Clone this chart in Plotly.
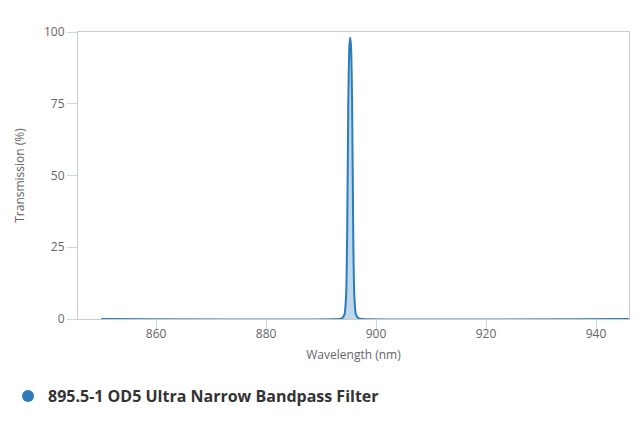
import plotly.graph_objects as go

# 透过率曲线
wavelength = [850, 893.3, 893.8, 894.25, 894.55, 894.75, 894.95, 895.15, 895.3,
              895.45, 895.65, 895.85, 896.05, 896.35, 896.85, 897.35, 950]
transmission = [0, 0, 0.2, 1.5, 8, 30, 75, 95, 98, 95, 75, 30, 8, 1.5, 0.2, 0, 0]

series_name = "895.5-1 OD5 Ultra Narrow Bandpass Filter"
x_ticks = [860, 880, 900, 920, 940]
y_ticks = [0, 25, 50, 75, 100]

blue = "#2b7cb8"

fig = go.Figure()

fig.add_trace(go.Scatter(
    x=wavelength, y=transmission,
    mode="lines",
    line=dict(color=blue, width=2, shape="spline", smoothing=0.6),
    fill="tozeroy",
    fillcolor="rgba(43,124,184,0.3)",
    showlegend=False,
    hoverinfo="x+y",
))

# 图例用的圆点
fig.add_trace(go.Scatter(
    x=[None], y=[None],
    mode="markers",
    marker=dict(color=blue, size=15, symbol="circle"),
    name=series_name,
))

axis_font = dict(family="'Open Sans', Lato, sans-serif", size=12, color="#666666")

# 页面 body 有 8px 边距，这里的边距已扣掉
fig.update_layout(
    width=640, height=427,
    margin=dict(l=70, r=19, t=24, b=116),
    paper_bgcolor="white",
    plot_bgcolor="white",
    font=axis_font,
    xaxis=dict(
        range=[845.8, 946.0],
        tickvals=x_ticks,
        ticks="outside", ticklen=10, tickcolor="#ccd6eb",
        ticklabelstandoff=-6,
        showgrid=False, zeroline=False,
        showline=True, linecolor="#cccccc", linewidth=1, mirror=True,
        title=dict(text="Wavelength (nm)", font=axis_font, standoff=9),
        tickfont=axis_font,
    ),
    yaxis=dict(
        range=[0, 100],
        tickvals=y_ticks,
        ticks="outside", ticklen=10, tickcolor="#ccd6eb",
        showgrid=False, zeroline=False,
        showline=True, linecolor="#cccccc", linewidth=1, mirror=True,
        title=dict(text="Transmission (%)", font=axis_font, standoff=16),
        tickfont=axis_font,
    ),
    legend=dict(
        xref="container", yref="container",
        x=0.0, y=0.091, xanchor="left", yanchor="middle",
        orientation="h",
        font=dict(family="'Open Sans', Lato, sans-serif", size=16, color="#333333", weight="bold"),
        itemsizing="constant",
    ),
    showlegend=True,
)

fig.write_html("out.html")
